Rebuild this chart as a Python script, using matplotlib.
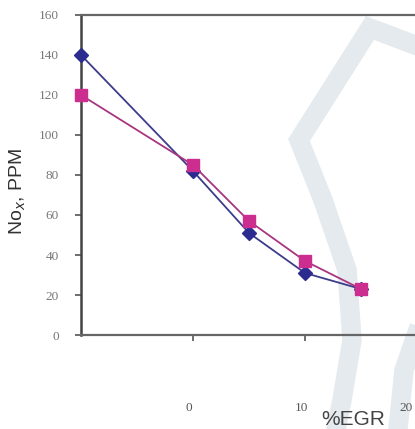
import matplotlib
matplotlib.use('Agg')
import matplotlib.pyplot as plt
from matplotlib.lines import Line2D
from matplotlib.transforms import ScaledTranslation

# %EGR values and NOx readings (PPM)
egr = [-10, 0, 5, 10, 15]
nox_a = [140, 82, 51, 31, 23]
nox_b = [120, 85, 57, 37, 23]

Y_TICKS = [0, 20, 40, 60, 80, 100, 120, 140, 160]
X_TICKS = [0, 10, 20]

W, H = 415, 429
fig = plt.figure(figsize=(W / 100, H / 100), dpi=100)


def px(x, y):
    return x / W, 1 - y / H


# faint watermark behind the plot
wm_main = [(415, 45), (370, 28), (299, 140), (323, 200), (347, 270),
           (352, 340), (342, 400), (336, 429)]
wm_side = [(418, 330), (404, 370), (398, 429)]
for pts in (wm_main, wm_side):
    xs, ys = zip(*[px(x, y) for x, y in pts])
    fig.add_artist(Line2D(xs, ys, transform=fig.transFigure, color='#e4eaed',
                          lw=14, solid_joinstyle='miter', zorder=-1))

ax = fig.add_axes([81 / W, 1 - 335 / H, 32 * 11.2 / W, 320 / H])
ax.patch.set_alpha(0)

ax.plot(egr, nox_a, color='#3c3c8c', lw=1.3, marker='D', ms=7,
        mfc='#2b2b90', mec='#2b2b90', zorder=3, clip_on=False)
ax.plot(egr, nox_b, color='#a8357f', lw=1.3, marker='s', ms=8,
        mfc='#cc2e8f', mec='#cc2e8f', zorder=3, clip_on=False)

ax.set_xlim(-10, 22)
ax.set_ylim(0, 160)
ax.set_yticks(Y_TICKS)
ax.set_xticks(X_TICKS)

for side in ['top', 'bottom']:
    ax.spines[side].set_color('#666666')
    ax.spines[side].set_linewidth(1.6)
ax.spines['left'].set_color('#444444')
ax.spines['left'].set_linewidth(1.8)
ax.spines['right'].set_visible(False)

ax.tick_params(axis='y', direction='out', length=4, width=1.2, color='#555555',
               pad=12, labelsize=9.5, labelcolor='#777777')
ax.tick_params(axis='x', direction='out', length=4, width=1.2, color='#555555',
               pad=44, labelsize=9.5, labelcolor='#555555')
for lab in ax.get_xticklabels() + ax.get_yticklabels():
    lab.set_fontfamily('Liberation Serif')

# x labels sit a little left of their ticks; keep "20" inside the frame
shift = ScaledTranslation(-4 / 100, 0, fig.dpi_scale_trans)
for lab in ax.get_xticklabels():
    lab.set_transform(lab.get_transform() + shift)
ax.get_xticklabels()[-1].set_horizontalalignment('right')

fig.text(18 / W, 1 - 191 / H, 'No$_x$, PPM', rotation=90, ha='center', va='center',
         fontsize=14, color='#333333', family='Liberation Sans')
fig.text(353 / W, 1 - 410 / H, '%EGR', ha='center', va='top',
         fontsize=15, color='#444444', family='Liberation Sans')

plt.savefig('out.png', dpi=100)
